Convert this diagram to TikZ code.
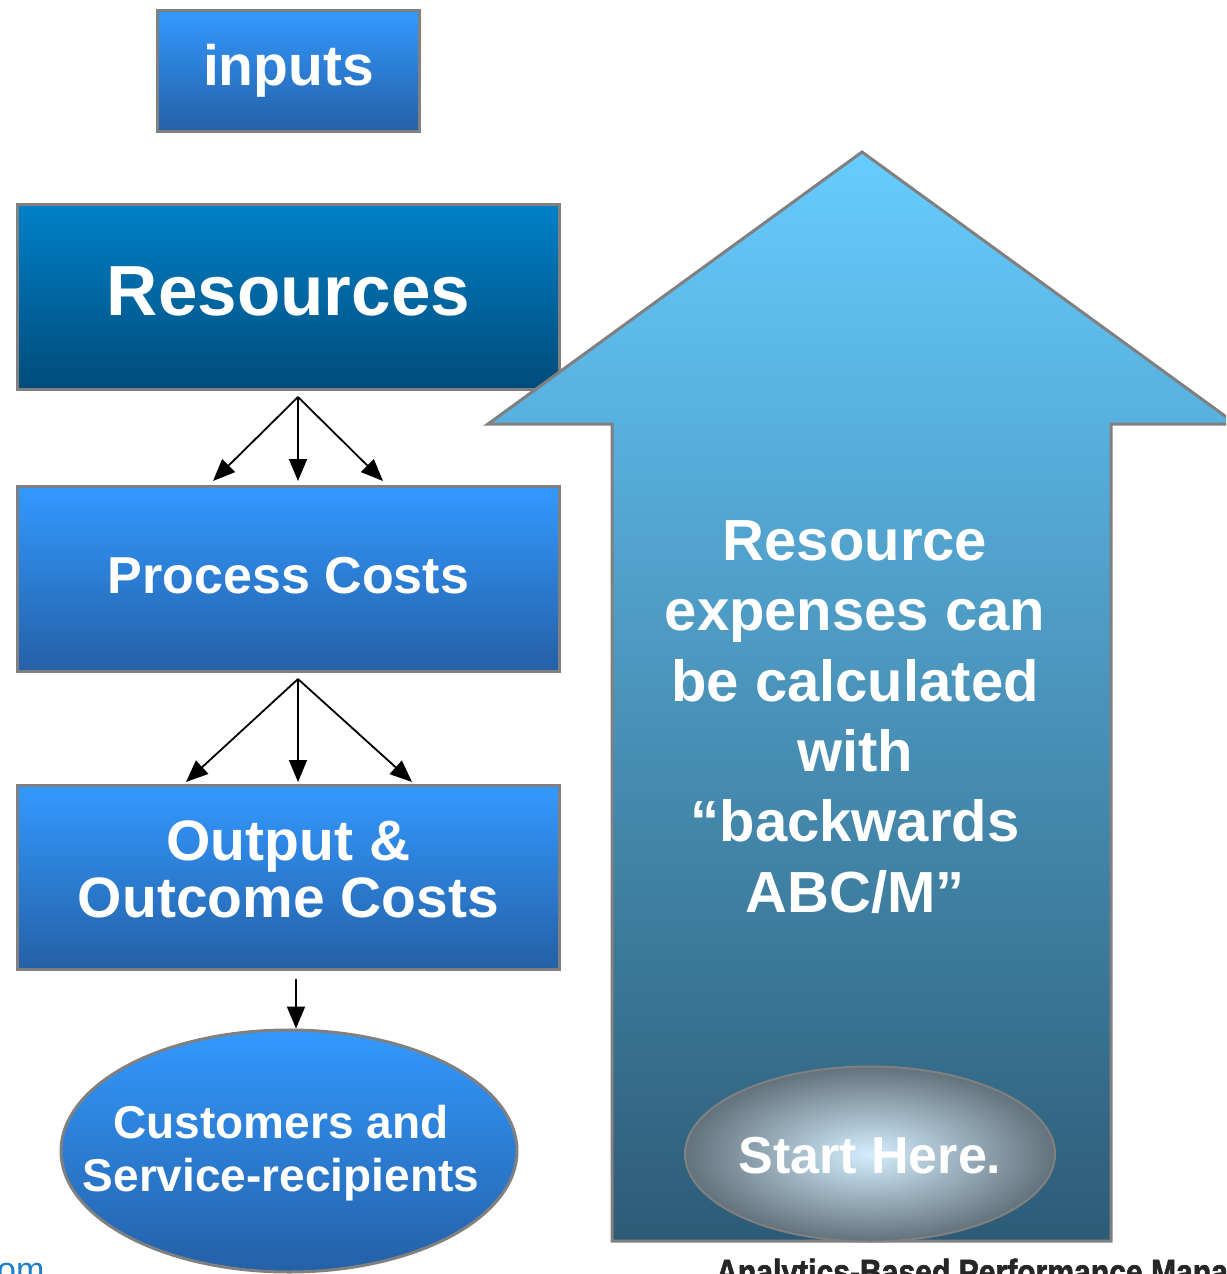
\documentclass[tikz,border=0pt]{standalone}
\usepackage{fontspec}
\setmainfont{Liberation Sans}
\newfontfamily\footfont[FakeBold=2]{Liberation Sans Bold}
\usetikzlibrary{arrows.meta,shapes.geometric}
\definecolor{boxtop}{HTML}{3399FF}
\definecolor{boxbot}{HTML}{2460A6}
\definecolor{restop}{HTML}{0080C8}
\definecolor{resbot}{HTML}{004C7A}
\definecolor{edgegray}{HTML}{808080}
\definecolor{uptop}{HTML}{66CCFF}
\definecolor{upbot}{HTML}{2D5B76}
\definecolor{linkblue}{HTML}{1F7FC8}
\tikzset{
  stagebox/.style={draw=edgegray, line width=3pt, top color=boxtop, bottom color=boxbot,
    text=white, font=\bfseries, align=center, inner sep=0pt},
  label/.style={text=white, align=center, inner sep=0pt},
  fan/.style={line width=1.8pt, -{Triangle[length=22pt,width=18pt]}},
}
\begin{document}
\begin{tikzpicture}[x=1pt,y=-1pt]
\useasboundingbox (0,0) rectangle (1226,1274);
\clip (0,0) rectangle (1226,1274);

% left column of cost stages
\node[stagebox, minimum width=262, minimum height=121, font=\bfseries\fontsize{57}{60}\selectfont]
  (inputs) at (288.5,71) {inputs};
\node[stagebox, top color=restop, bottom color=resbot, minimum width=542, minimum height=185,
  font=\bfseries\fontsize{71}{74}\selectfont] (res) at (288.5,297) {\raisebox{11pt}{Resources}};
\node[stagebox, minimum width=542, minimum height=185, font=\bfseries\fontsize{52}{56}\selectfont]
  (proc) at (288.5,579) {\raisebox{7pt}{Process Costs}};
\node[stagebox, minimum width=542, minimum height=184, font=\bfseries\fontsize{57}{57}\selectfont]
  (out) at (288.5,877.5) {\raisebox{-4pt}{\begin{tabular}{@{}c@{}}Output \&\\Outcome Costs\end{tabular}}};
\node[stagebox, ellipse, minimum width=456, minimum height=242] (cust) at (289,1151) {};
\node[label, font=\bfseries\fontsize{46}{53}\selectfont] (custtext) at (281,1153)
  {Customers and\\Service-recipients};

% fan-out connectors between stages
\coordinate (r0) at (298,397);
\coordinate (p1) at (213,481);
\coordinate (p2) at (298,481);
\coordinate (p3) at (383,481);
\draw[fan] (r0) -- (p1);
\draw[fan] (r0) -- (p2);
\draw[fan] (r0) -- (p3);
\coordinate (q0) at (298,679);
\coordinate (o1) at (186,782);
\coordinate (o2) at (298,782);
\coordinate (o3) at (412,782);
\draw[fan] (q0) -- (o1);
\draw[fan] (q0) -- (o2);
\draw[fan] (q0) -- (o3);
\coordinate (u0) at (296,979);
\draw[fan] (u0) -- (u0 |- cust.north);

% large upward arrow
\path[draw=edgegray, line width=3pt, line join=miter, top color=uptop, bottom color=upbot]
  (862,152) -- (1236,424) -- (1111,424) -- (1111,1241) -- (612,1241) -- (612,424)
  -- (488,424) -- cycle;
\node[label, font=\bfseries\fontsize{58}{70.3}\selectfont]
  (note) at (855,717) {Resource\\expenses can\\be calculated\\with\\\textquotedblleft backwards\\ABC/M\textquotedblright};

\node[ellipse, draw=edgegray, line width=2pt, inner color={rgb,255:red,212;green,238;blue,255},
  outer color={rgb,255:red,98;green,114;blue,124}, minimum width=370, minimum height=175,
  inner sep=0pt] (start) at (870,1154) {};
\node[label, font=\bfseries\fontsize{52}{56}\selectfont] (starttext) at (870,1156) {Start Here.};

% footer texts running off the edges
\node[anchor=base west, inner sep=0pt, text=linkblue, font=\fontsize{34}{34}\selectfont]
  (url) at (-3,1281) {om};
\node[anchor=base west, inner sep=0pt, text=black!85, font=\footfont\fontsize{35}{35}\selectfont,
  xscale=0.86] (foot) at (716,1284) {Analytics-Based Performance Management};
\end{tikzpicture}
\end{document}
